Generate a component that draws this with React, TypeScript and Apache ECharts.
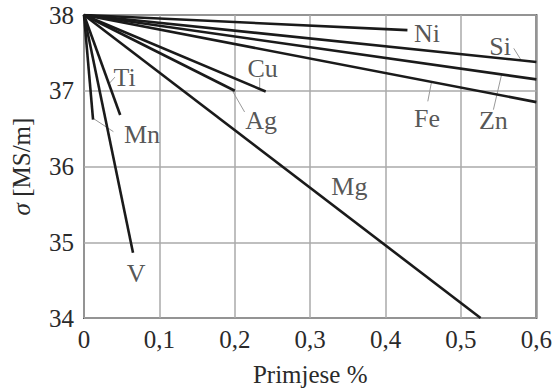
import React, { useEffect, useRef } from "react";
import * as echarts from "echarts";

// Impurity elements and the end point of each line (all start at 0 % / 38 MS/m)
const elements = ["Ni", "Si", "Zn", "Fe", "Cu", "Ag", "Mg", "Ti", "Mn", "V"];
const startX = 0;
const startY = 38;
const endX = [0.429, 0.6, 0.6, 0.6, 0.241, 0.2, 0.526, 0.048, 0.012, 0.065];
const endY = [37.8, 37.38, 37.15, 36.85, 36.99, 37.0, 34.0, 36.68, 36.62, 34.86];

// Annotation label anchors (data coordinates)
const labelX = [0.455, 0.552, 0.543, 0.455, 0.237, 0.235, 0.352, 0.054, 0.077, 0.069];
const labelY = [37.76, 37.58, 36.61, 36.64, 37.3, 36.61, 35.74, 37.18, 36.42, 34.59];

// Leader lines from labels to curves (data coordinates)
const leaderNames = ["Si", "Zn", "Fe", "Cu", "Ag", "Ti", "Mn"];
const leaderFromX = [0.57, 0.543, 0.456, 0.233, 0.195, 0.033, 0.013];
const leaderFromY = [37.56, 36.75, 36.86, 37.17, 37.03, 37.09, 36.63];
const leaderToX = [0.58, 0.554, 0.461, 0.233, 0.213, 0.041, 0.039];
const leaderToY = [37.4, 37.22, 37.12, 37.03, 36.72, 37.18, 36.46];

const xTicks = { min: 0, max: 0.6, interval: 0.1 };
const yTicks = { min: 34, max: 38, interval: 1 };

const FONT = "'Liberation Serif', 'Times New Roman', serif";
const TEXT = "#2a2a2a";

export default function App() {
  const ref = useRef<HTMLDivElement>(null);
  useEffect(() => {
    if (!ref.current) return;
    const chart = echarts.init(ref.current, undefined, { renderer: "svg" });
    const lineSeries = elements.map((name, i) => ({
      type: "line",
      name,
      data: [
        [startX, startY],
        [endX[i], endY[i]],
      ],
      symbol: "none",
      lineStyle: { color: "#1a1a1a", width: 2.6 },
      z: 3,
    }));
    const leaderSeries = leaderNames.map((name, i) => ({
      type: "line",
      name: "leader-" + name,
      data: [
        [leaderFromX[i], leaderFromY[i]],
        [leaderToX[i], leaderToY[i]],
      ],
      symbol: "none",
      lineStyle: { color: "#999", width: 1 },
      z: 2,
    }));
    const labelSeries = {
      type: "scatter",
      symbolSize: 0,
      data: elements.map((name, i) => ({ name, value: [labelX[i], labelY[i]] })),
      label: {
        show: true,
        position: "inside",
        formatter: (p: any) => p.name,
        fontFamily: FONT,
        fontSize: 26,
        color: TEXT,
      },
      z: 4,
    };
    const fmtX = (v: number) => {
      const r = Math.round(v * 10) / 10;
      return r === 0 ? "0" : String(r).replace(".", ",");
    };
    chart.setOption({
      animation: false,
      backgroundColor: "#fff",
      grid: {
        left: 84,
        right: 17.5,
        top: 15,
        bottom: 74,
        show: true,
        borderColor: "#555",
        borderWidth: 2,
        backgroundColor: "transparent",
      },
      xAxis: {
        type: "value",
        min: xTicks.min,
        max: xTicks.max,
        interval: xTicks.interval,
        name: "Primjese %",
        nameLocation: "middle",
        nameGap: 44,
        nameTextStyle: { fontFamily: FONT, fontSize: 25, color: TEXT },
        axisLine: { show: false },
        axisTick: { show: false },
        axisLabel: {
          fontFamily: FONT,
          fontSize: 25,
          color: TEXT,
          margin: 9,
          formatter: fmtX,
        },
        splitLine: { show: true, lineStyle: { color: "#aaa", width: 1.5 } },
      },
      yAxis: {
        type: "value",
        min: yTicks.min,
        max: yTicks.max,
        interval: yTicks.interval,
        name: "{i|σ} [MS/m]",
        nameLocation: "middle",
        nameGap: 50,
        nameRotate: 90,
        nameTextStyle: {
          fontFamily: FONT,
          fontSize: 25,
          color: TEXT,
          rich: {
            i: { fontFamily: FONT, fontSize: 25, fontStyle: "italic", color: TEXT },
          },
        },
        axisLine: { show: false },
        axisTick: { show: false },
        axisLabel: { fontFamily: FONT, fontSize: 25, color: TEXT, margin: 10 },
        splitLine: { show: true, lineStyle: { color: "#aaa", width: 1.5 } },
      },
      series: [...leaderSeries, ...lineSeries, labelSeries],
    });
    return () => chart.dispose();
  }, []);
  return <div ref={ref} style={{ width: 555, height: 392, position: "absolute", left: 0, top: 0 }} />;
}
